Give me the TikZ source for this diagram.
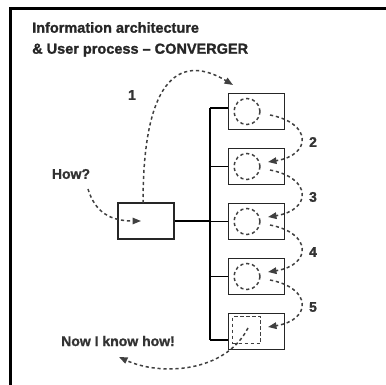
\documentclass[tikz,border=0pt]{standalone}
\usepackage{fontspec}
\setmainfont{Liberation Sans}
\newfontfamily\heavy{Liberation Sans Bold}[FakeBold=1.3]
\usetikzlibrary{arrows.meta}

\begin{document}
\begin{tikzpicture}[x=1pt,y=-1pt,
  box/.style={draw=black!85,line width=1.3pt,minimum width=56pt,minimum height=36pt,inner sep=0pt},
  trail/.style={draw=black!75,line width=1.5pt,dash pattern=on 3.2pt off 2.8pt},
  tip/.style={-{Triangle[length=8.5pt,width=6.5pt]}},
  lbl/.style={font=\heavy\fontsize{14}{16}\selectfont,text=black!80}]
\useasboundingbox (0,0) rectangle (386,385);
\draw[line width=3pt] (10,385) -- (10,8.5) -- (386,8.5);
\node[anchor=north west,align=left,inner sep=0pt,text=black!85,
  font=\heavy\fontsize{14.5}{21}\selectfont] (title) at (32,22)
  {Information architecture\\\& User process \textendash{} CONVERGER};
% boxes
\node[box] (start) at (146,221) {};
\foreach \i in {1,...,5}
  \node[box] (b\i) at (256.5,111.5+55*\i-55) {};
% tree
\coordinate (top) at (210,108);
\coordinate (bot) at (210,340);
\draw[line width=1.1pt] (top) -- (bot);
\draw[line width=1.1pt] (top) -- (top -| b1.west);
\draw[line width=1.1pt] (bot) -- (bot -| b5.west);
\foreach \i in {2,3,4}
  \draw[line width=1.1pt] (top |- b\i.west) -- (b\i.west);
\draw[line width=1.1pt] (start.east) -- (top |- start.east);
% contents
\foreach \i in {1,...,4}
  \node[trail,circle,minimum size=26pt,inner sep=0pt] (c\i) at (247,111.5+55*\i-55) {};
\node[trail,minimum width=28pt,minimum height=27pt,inner sep=0pt] (sq) at (246.5,330) {};
% user path
\coordinate (s1) at (143,203);
\coordinate (a1) at (233,85);
\draw[trail,tip] (s1) .. controls (143,58) and (192,60) .. (a1);
\node[lbl] (n1) at (132,95) {1};
\foreach \i/\j in {1/2,2/3,3/4,4/5}{
  \coordinate (o\i) at (270,93+55*\i-55+22);
  \coordinate (a\j) at (268,93+55*\i-55+69);
  \draw[trail,tip] (o\i) .. controls (312,93+55*\i-55+30) and (312,93+55*\i-55+62) .. (a\j);
  \node[lbl] (n\j) at (313,93+55*\i-55+49) {\j};
}
\node[lbl] (how) at (71,174) {How?};
\coordinate (h0) at (88,189);
\coordinate (h1) at (141,221);
\draw[trail,tip] (h0) .. controls (95,212) and (110,221) .. (h1);
\node[lbl] (done) at (118,341) {Now I know how!};
\coordinate (e0) at (248,328);
\coordinate (e1) at (119,357);
\draw[trail,tip] (e0) .. controls (225,373) and (160,376) .. (e1);
\end{tikzpicture}
\end{document}
